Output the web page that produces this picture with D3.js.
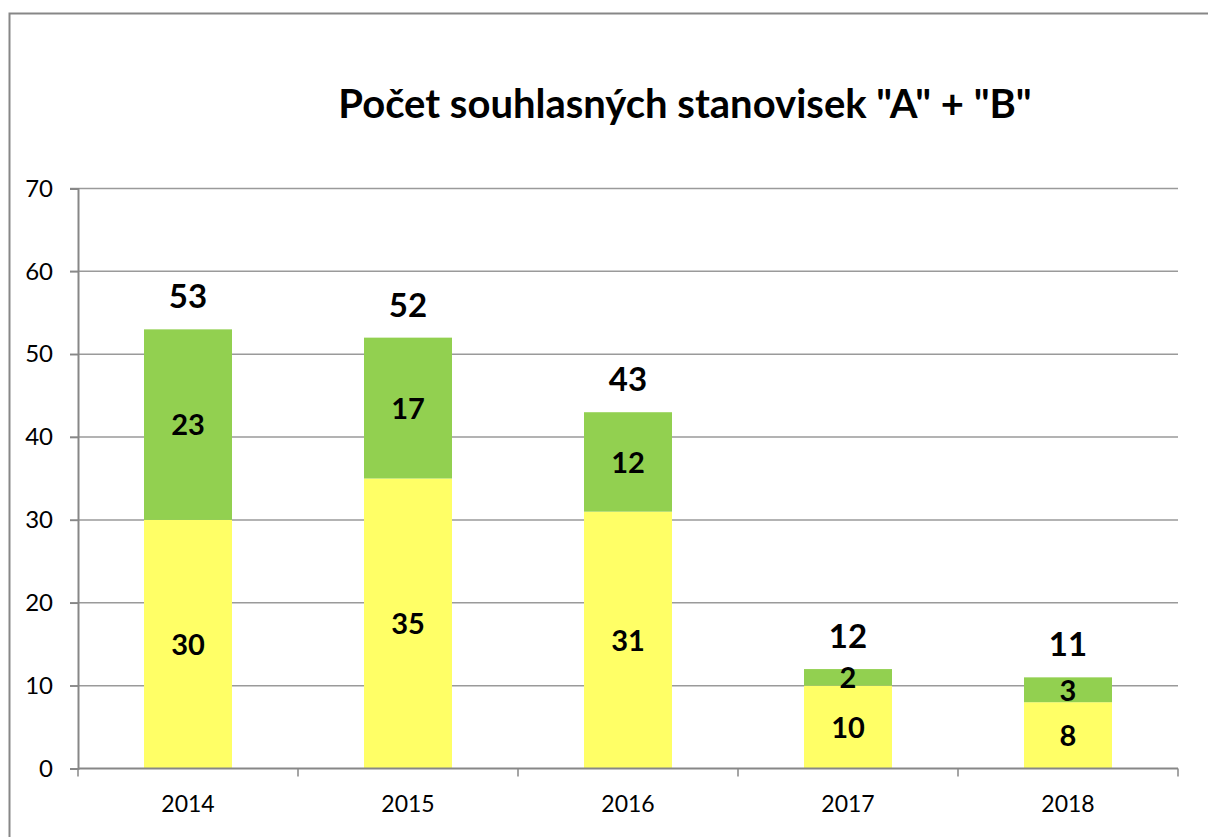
<!DOCTYPE html>
<html>
<head>
<meta charset="utf-8">
<script src="https://cdn.jsdelivr.net/npm/d3@7"></script>
<style>
  html, body { margin: 0; padding: 0; background: #fff; }
  svg { display: block; font-family: Lato, "Open Sans", sans-serif; }
  .tick text { fill: #000; }
</style>
</head>
<body>
<svg id="chart" width="1208" height="837"></svg>
<script>
const years = ["2014", "2015", "2016", "2017", "2018"];
const seriesA = [30, 35, 31, 10, 8];
const seriesB = [23, 17, 12, 2, 3];
const totals = [53, 52, 43, 12, 11];
const yTicks = [0, 10, 20, 30, 40, 50, 60, 70];
const colorA = "#ffff66";
const colorB = "#92d050";
const title = 'Počet souhlasných stanovisek "A" + "B"';

const svg = d3.select("#chart");
const width = 1208, height = 837;
const margin = { top: 188.5, right: 30, bottom: 68.5, left: 78 };
const plotW = width - margin.left - margin.right;
const plotH = height - margin.top - margin.bottom;

// outer chart frame
svg.append("rect")
  .attr("x", 9.5).attr("y", 13.5)
  .attr("width", 1240).attr("height", 900)
  .attr("fill", "none")
  .attr("stroke", "#878787")
  .attr("stroke-width", 2);

svg.append("text")
  .attr("x", 685).attr("y", 118)
  .attr("text-anchor", "middle")
  .attr("font-size", 40)
  .attr("font-weight", "bold")
  .text(title);

const g = svg.append("g").attr("transform", `translate(${margin.left},${margin.top})`);

const x = d3.scaleBand().domain(years).range([0, plotW]).paddingInner(0.6).paddingOuter(0.3);
const y = d3.scaleLinear().domain([0, 70]).range([plotH, 0]);

// gridlines
g.append("g")
  .selectAll("line")
  .data(yTicks.filter(d => d > 0))
  .join("line")
  .attr("x1", -8).attr("x2", plotW)
  .attr("y1", d => y(d)).attr("y2", d => y(d))
  .attr("stroke", "#9a9a9a")
  .attr("stroke-width", 1.5);

const stackData = years.map((yr, i) => ({ year: yr, A: seriesA[i], B: seriesB[i] }));
const stack = d3.stack().keys(["A", "B"])(stackData);
const colors = { A: colorA, B: colorB };

const layers = g.append("g").selectAll("g")
  .data(stack)
  .join("g")
  .attr("fill", d => colors[d.key]);

layers.selectAll("rect")
  .data(d => d)
  .join("rect")
  .attr("x", d => x(d.data.year))
  .attr("y", d => y(d[1]))
  .attr("width", x.bandwidth())
  .attr("height", d => y(d[0]) - y(d[1]));

// segment labels
layers.selectAll("text")
  .data(d => d.map(v => ({ v, key: d.key })))
  .join("text")
  .attr("x", d => x(d.v.data.year) + x.bandwidth() / 2)
  .attr("y", d => (y(d.v[0]) + y(d.v[1])) / 2)
  .attr("dy", "0.37em")
  .attr("text-anchor", "middle")
  .attr("fill", "#000")
  .attr("font-size", 29)
  .attr("font-weight", "bold")
  .text(d => d.v.data[d.key]);

// total labels
g.append("g").selectAll("text")
  .data(years)
  .join("text")
  .attr("x", d => x(d) + x.bandwidth() / 2)
  .attr("y", (d, i) => y(totals[i]) - 21)
  .attr("text-anchor", "middle")
  .attr("font-size", 33)
  .attr("font-weight", "bold")
  .text((d, i) => totals[i]);

// y axis
const yAxis = g.append("g")
  .call(d3.axisLeft(y).tickValues(yTicks).tickSize(8).tickPadding(17));
yAxis.select(".domain").attr("stroke", "#878787").attr("stroke-width", 2);
yAxis.selectAll(".tick line").attr("stroke", "#878787").attr("stroke-width", 1.5);
yAxis.selectAll(".tick text").attr("font-size", 24).attr("font-family", "Lato, sans-serif");

// x axis with ticks at category boundaries
const xAxisG = g.append("g").attr("transform", `translate(0,${plotH})`);
xAxisG.append("line")
  .attr("x1", 0).attr("x2", plotW)
  .attr("stroke", "#878787").attr("stroke-width", 2);
const step = x.step();
xAxisG.selectAll("line.bnd")
  .data(d3.range(years.length + 1))
  .join("line")
  .attr("class", "bnd")
  .attr("x1", i => i * step).attr("x2", i => i * step)
  .attr("y1", 0).attr("y2", 8)
  .attr("stroke", "#878787").attr("stroke-width", 1.5);
xAxisG.selectAll("text")
  .data(years)
  .join("text")
  .attr("x", d => x(d) + x.bandwidth() / 2)
  .attr("y", 43)
  .attr("text-anchor", "middle")
  .attr("font-size", 23)
  .text(d => d);
</script>
</body>
</html>
